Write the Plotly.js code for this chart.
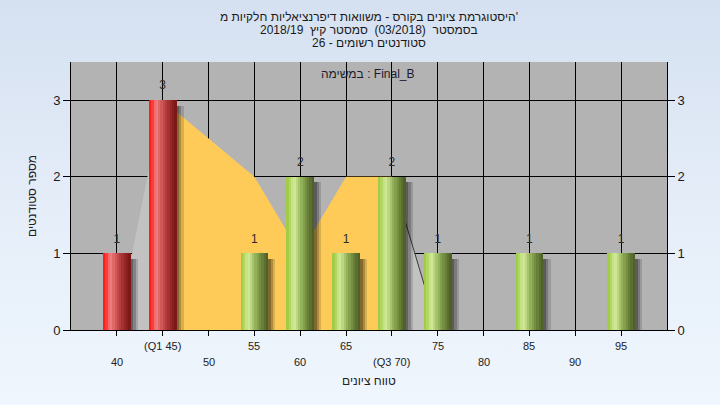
<!DOCTYPE html>
<html>
<head>
<meta charset="utf-8">
<script src="https://cdn.plot.ly/plotly-3.0.1.min.js"></script>
<style>
  html, body { margin: 0; padding: 0; }
  body { width: 720px; height: 405px; background: linear-gradient(to bottom, #d5e1f1 0%, #e6eef9 55%, #eff6fd 100%); overflow: hidden; }
  #chart { width: 720px; height: 405px; }
</style>
</head>
<body>
<div id="chart"></div>
<script>
// ---- data ----
const categories = [40, 45, 50, 55, 60, 65, 70, 75, 80, 85, 90, 95];
const counts     = [1, 3, 0, 1, 2, 1, 2, 1, 0, 1, 0, 1];
const tickLabels = ['40', '(Q1 45)', '50', '55', '60', '65', '(Q3 70)', '75', '80', '85', '90', '95'];
const curveX = [40, 45, 50, 55, 60, 65, 70, 75];
const curveY = [0, 3, 2.5, 2, 1, 2, 2, 0];
const q1 = 45;
const q3 = 70;
const yTicks = [0, 1, 2, 3];
const titleLines = [
  "היסטוגרמת ציונים בקורס - משוואות דיפרנציאליות חלקיות מ'",
  "בסמסטר  (03/2018)  סמסטר קיץ  2018/19",
  "סטודנטים רשומים - 26"
];
const taskLabel = "במשימה : Final_B";
const xTitle = "טווח ציונים";
const yTitle = "מספר סטודנטים";

// ---- styles ----
const FONT = "'Liberation Sans', Arial, 'DejaVu Sans', sans-serif";
const barW = 3;
const redStops   = ['#ff1e1e', '#ff3c3c', '#f56a6a', '#ef7c7c', '#e06868', '#d15858', '#c24a4a', '#b33d3d', '#a43131', '#962727', '#891e1e', '#7c1818'];
const greenStops = ['#a2cb48', '#b2d664', '#c6e286', '#cfe694', '#bcd681', '#a6c46c', '#93b15a', '#84a04d', '#758f42', '#677f38', '#5a6f30', '#4d6128'];
const nStripes = redStops.length;
const stripeW = barW / nStripes;

function segment(lo, hi) {
  const xs = [], ys = [];
  curveX.forEach((x, i) => { if (x >= lo && x <= hi) { xs.push(x); ys.push(curveY[i]); } });
  return {x: xs, y: ys};
}

const traces = [];
const segL = segment(curveX[0], q1);
const segM = segment(q1, q3);
const segR = segment(q3, curveX[curveX.length - 1]);
// areas on the base subplot (drawn beneath the bars)
traces.push({type: 'scatter', x: segL.x, y: segL.y, mode: 'lines', fill: 'tozeroy',
  fillcolor: '#c2c2c2', line: {width: 0}, hoverinfo: 'skip', showlegend: false});
traces.push({type: 'scatter', x: segR.x, y: segR.y, mode: 'lines', fill: 'tozeroy',
  fillcolor: '#c2c2c2', line: {width: 1, color: '#3a3a3a'}, hoverinfo: 'skip', showlegend: false});
traces.push({type: 'scatter', x: segM.x, y: segM.y, mode: 'lines', fill: 'tozeroy',
  fillcolor: '#fecb58', line: {width: 0}, hoverinfo: 'skip', showlegend: false});

// shadows (overlay subplot)
[[0.8, 'rgba(0,0,0,0.14)'], [0.55, 'rgba(0,0,0,0.2)'], [0.3, 'rgba(0,0,0,0.25)']].forEach(([dx, col]) => {
  traces.push({type: 'bar', x: categories, y: counts, base: -0.07, width: barW,
    offset: -barW / 2 + dx, marker: {color: col, line: {width: 0}}, xaxis: 'x2', yaxis: 'y3',
    cliponaxis: false, hoverinfo: 'skip', showlegend: false});
});

// cylinder-like bars built from vertical stripes
for (let i = 0; i < nStripes; i++) {
  traces.push({type: 'bar', x: categories, y: counts, width: stripeW * 1.08,
    offset: -barW / 2 + i * stripeW, xaxis: 'x2', yaxis: 'y3',
    marker: {color: categories.map(c => c <= q1 ? redStops[i] : greenStops[i]), line: {width: 0}},
    hoverinfo: 'skip', showlegend: false});
}

// value labels
traces.push({type: 'scatter', mode: 'markers+text', x: categories, y: counts, xaxis: 'x2', yaxis: 'y3',
  marker: {size: 11, color: 'rgba(0,0,0,0)'},
  text: counts.map(v => v > 0 ? String(v) : ''), textposition: 'top center', cliponaxis: false,
  textfont: {family: FONT, size: 12, color: '#2e2a26'}, hoverinfo: 'skip', showlegend: false});

// invisible trace on right axis
traces.push({type: 'scatter', x: [categories[0]], y: [0], yaxis: 'y2', mode: 'markers',
  marker: {opacity: 0}, hoverinfo: 'skip', showlegend: false});

const annotations = [];
titleLines.forEach((t, i) => {
  annotations.push({text: t, xref: 'paper', yref: 'paper', x: 0.5, y: 1, xanchor: 'center', yanchor: 'middle',
    yshift: 45 - i * 13, showarrow: false, font: {family: FONT, size: 12, color: '#1a1a1a'}});
});
annotations.push({text: taskLabel, xref: 'paper', yref: 'paper', x: 0.5, y: 1, xanchor: 'center', yanchor: 'middle',
  yshift: -12, xshift: -1, showarrow: false, font: {family: FONT, size: 12, color: '#1e1a30'}});
tickLabels.forEach((t, i) => {
  annotations.push({text: t, xref: 'x', yref: 'paper', x: categories[i], y: 0, xanchor: 'center', yanchor: 'middle',
    yshift: i % 2 === 1 ? -16 : -32, showarrow: false, font: {family: FONT, size: 11, color: '#222'}});
});
annotations.push({text: xTitle, xref: 'paper', yref: 'paper', x: 0.5, y: 0, xanchor: 'center', yanchor: 'middle',
  yshift: -51, showarrow: false, font: {family: FONT, size: 12, color: '#222'}});
annotations.push({text: yTitle, xref: 'paper', yref: 'paper', x: 0, y: 0.5, xanchor: 'center', yanchor: 'middle',
  xshift: -39, textangle: -90, showarrow: false, font: {family: FONT, size: 12, color: '#222'}});

const yRange = [0, 3.5];
const xRange = [35, 100];
const yAxisCommon = {range: yRange, tickvals: yTicks, ticks: 'outside', ticklen: 7, tickcolor: '#000',
  showline: true, linecolor: '#000', linewidth: 1, zeroline: false,
  tickfont: {family: FONT, size: 13, color: '#1a1a1a'}, fixedrange: true};

const layout = {
  width: 720, height: 405,
  margin: {l: 71, r: 53, t: 62, b: 75},
  paper_bgcolor: 'rgba(0,0,0,0)',
  plot_bgcolor: '#b3b3b3',
  barmode: 'overlay',
  bargap: 0,
  showlegend: false,
  xaxis: {range: xRange, tickvals: categories, showticklabels: false, ticks: 'outside', ticklen: 5,
    tickcolor: '#000', showgrid: true, gridcolor: '#000', gridwidth: 1, showline: true, linecolor: '#000',
    zeroline: false, fixedrange: true},
  yaxis: Object.assign({}, yAxisCommon, {showgrid: true, gridcolor: '#000', gridwidth: 1}),
  yaxis2: Object.assign({}, yAxisCommon, {overlaying: 'y', side: 'right', showgrid: false}),
  xaxis2: {range: xRange, overlaying: 'x', visible: false, fixedrange: true},
  yaxis3: {range: yRange, overlaying: 'y', visible: false, fixedrange: true},
  annotations: annotations
};

Plotly.newPlot('chart', traces, layout, {displayModeBar: false, staticPlot: true});
</script>
</body>
</html>
